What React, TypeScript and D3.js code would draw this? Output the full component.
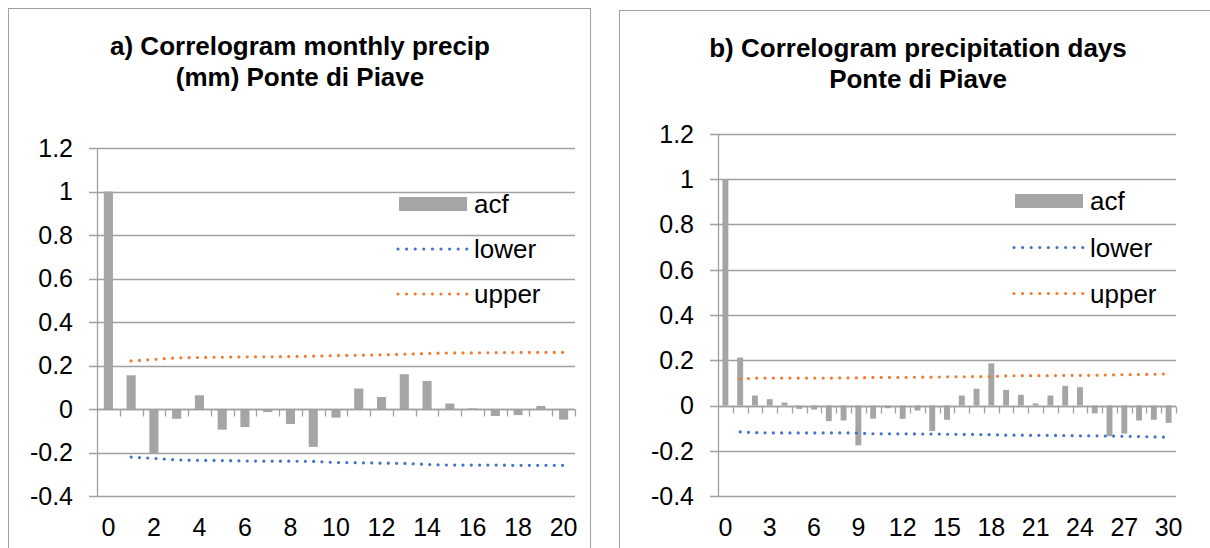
import React, { useEffect, useRef } from 'react';
import * as d3 from 'd3';

// panel a: monthly precip
const lagsA = [0, 1, 2, 3, 4, 5, 6, 7, 8, 9, 10, 11, 12, 13, 14, 15, 16, 17, 18, 19, 20];
const acfA = [1, 0.155, -0.205, -0.045, 0.063, -0.095, -0.083, -0.014, -0.069, -0.174, -0.04,
  0.094, 0.055, 0.16, 0.129, 0.025, 0.003, -0.032, -0.028, 0.014, -0.049];
const boundLagsA = [1, 2, 3, 4, 5, 6, 7, 8, 9, 10, 11, 12, 13, 14, 15, 16, 17, 18, 19, 20];
const upperA = [0.221, 0.228, 0.235, 0.237, 0.238, 0.24, 0.24, 0.241, 0.243, 0.246, 0.247,
  0.249, 0.252, 0.255, 0.258, 0.258, 0.259, 0.26, 0.26, 0.26];
const lowerA = [-0.221, -0.227, -0.234, -0.236, -0.237, -0.239, -0.24, -0.24, -0.241, -0.246,
  -0.247, -0.249, -0.25, -0.255, -0.258, -0.258, -0.258, -0.259, -0.259, -0.259];
const xLabelsA = [0, 2, 4, 6, 8, 10, 12, 14, 16, 18, 20];

// panel b: precipitation days
const lagsB = [0, 1, 2, 3, 4, 5, 6, 7, 8, 9, 10, 11, 12, 13, 14, 15, 16, 17, 18, 19, 20, 21, 22,
  23, 24, 25, 26, 27, 28, 29, 30];
const acfB = [1, 0.212, 0.044, 0.028, 0.013, -0.015, -0.018, -0.069, -0.066, -0.176, -0.058,
  -0.012, -0.059, -0.022, -0.113, -0.063, 0.044, 0.074, 0.186, 0.069, 0.047, 0.009, 0.044,
  0.087, 0.081, -0.035, -0.136, -0.124, -0.066, -0.063, -0.077];
const boundLagsB = [1, 2, 3, 4, 5, 6, 7, 8, 9, 10, 11, 12, 13, 14, 15, 16, 17, 18, 19, 20, 21,
  22, 23, 24, 25, 26, 27, 28, 29, 30];
const upperB = [0.117, 0.121, 0.121, 0.121, 0.121, 0.121, 0.121, 0.122, 0.122, 0.124, 0.124,
  0.124, 0.125, 0.125, 0.127, 0.127, 0.128, 0.128, 0.131, 0.132, 0.132, 0.132, 0.133, 0.133,
  0.134, 0.135, 0.136, 0.137, 0.138, 0.14];
const lowerB = [-0.117, -0.12, -0.121, -0.121, -0.121, -0.121, -0.121, -0.121, -0.122, -0.125,
  -0.125, -0.125, -0.126, -0.126, -0.127, -0.128, -0.128, -0.129, -0.131, -0.131, -0.132,
  -0.132, -0.133, -0.134, -0.134, -0.135, -0.136, -0.137, -0.139, -0.14];
const xLabelsB = [0, 3, 6, 9, 12, 15, 18, 21, 24, 27, 30];

const yTicks = [-0.4, -0.2, 0, 0.2, 0.4, 0.6, 0.8, 1, 1.2];

const FONT = "'Liberation Sans', Arial, sans-serif";
const GRID = '#a0a0a0';
const BAR = '#a5a5a5';
const BLUE = '#4472c4';
const ORANGE = '#ed7d31';

type Panel = {
  box: [number, number, number, number];
  plot: { left: number; right: number; top: number; bottom: number };
  title: string[];
  titleX: number;
  titleY: number[];
  lags: number[];
  acf: number[];
  boundLags: number[];
  upper: number[];
  lower: number[];
  xLabels: number[];
  legend: { x: number; y: number[] };
};

const panels: Panel[] = [
  {
    box: [8.5, 8.5, 582, 560],
    plot: { left: 97, right: 575, top: 148, bottom: 496 },
    title: ['a) Correlogram monthly precip', '(mm) Ponte di Piave'],
    titleX: 300,
    titleY: [55, 86],
    lags: lagsA, acf: acfA, boundLags: boundLagsA, upper: upperA, lower: lowerA,
    xLabels: xLabelsA,
    legend: { x: 399, y: [204, 249, 294] },
  },
  {
    box: [619.5, 10.5, 600, 560],
    plot: { left: 718, right: 1176, top: 134, bottom: 496 },
    title: ['b) Correlogram precipitation days', 'Ponte di Piave'],
    titleX: 918,
    titleY: [57, 88],
    lags: lagsB, acf: acfB, boundLags: boundLagsB, upper: upperB, lower: lowerB,
    xLabels: xLabelsB,
    legend: { x: 1015, y: [201, 247.5, 293.5] },
  },
];

function drawPanel(svg: d3.Selection<SVGSVGElement, unknown, null, undefined>, p: Panel) {
  const g = svg.append('g');

  g.append('rect')
    .attr('x', p.box[0]).attr('y', p.box[1])
    .attr('width', p.box[2]).attr('height', p.box[3])
    .attr('fill', '#fff').attr('stroke', GRID).attr('stroke-width', 1);

  // title
  p.title.forEach((t, i) => {
    g.append('text')
      .attr('x', p.titleX).attr('y', p.titleY[i])
      .attr('text-anchor', 'middle')
      .style('font-family', FONT).style('font-size', '26px').style('font-weight', 'bold')
      .text(t);
  });

  const x = d3.scaleBand<number>()
    .domain(p.lags)
    .range([p.plot.left, p.plot.right])
    .paddingInner(0.6)
    .paddingOuter(0.3);
  const step = x.step();
  const y = d3.scaleLinear().domain([-0.4, 1.2]).range([p.plot.bottom, p.plot.top]);
  const cx = (k: number) => (x(k) as number) + x.bandwidth() / 2;

  // gridlines + y ticks
  yTicks.forEach(v => {
    const yy = Math.round(y(v)) + 0.5;
    g.append('line')
      .attr('x1', p.plot.left - 8).attr('x2', p.plot.right)
      .attr('y1', yy).attr('y2', yy)
      .attr('stroke', GRID).attr('stroke-width', 1.3);
    g.append('text')
      .attr('x', p.plot.left - 24).attr('y', y(v))
      .attr('dy', '0.35em')
      .attr('text-anchor', 'end')
      .style('font-family', FONT).style('font-size', '25px')
      .text(String(+v.toFixed(1)));
  });

  // y axis line
  g.append('line')
    .attr('x1', p.plot.left + 0.5).attr('x2', p.plot.left + 0.5)
    .attr('y1', y(1.2)).attr('y2', y(-0.4))
    .attr('stroke', GRID).attr('stroke-width', 1.3);

  // bars
  g.selectAll('rect.bar')
    .data(p.acf)
    .enter()
    .append('rect')
    .attr('class', 'bar')
    .attr('x', (d, i) => x(p.lags[i]) as number)
    .attr('width', x.bandwidth())
    .attr('y', d => y(Math.max(0, d)))
    .attr('height', d => Math.abs(y(d) - y(0)))
    .attr('fill', BAR);

  // x axis at zero with tick marks between categories
  const y0 = Math.round(y(0)) + 0.5;
  g.append('line')
    .attr('x1', p.plot.left).attr('x2', p.plot.right)
    .attr('y1', y0).attr('y2', y0)
    .attr('stroke', GRID).attr('stroke-width', 1.3);
  p.lags.forEach((k, i) => {
    const tx = Math.round(p.plot.left + step * (i + 1)) + 0.5;
    g.append('line')
      .attr('x1', tx).attr('x2', tx)
      .attr('y1', y0).attr('y2', y0 + 7)
      .attr('stroke', GRID).attr('stroke-width', 1.3);
  });

  // x labels at bottom
  p.xLabels.forEach(k => {
    g.append('text')
      .attr('x', cx(k)).attr('y', p.plot.bottom + 31)
      .attr('dy', '0.35em')
      .attr('text-anchor', 'middle')
      .style('font-family', FONT).style('font-size', '25px')
      .text(k);
  });

  // confidence bounds
  const line = d3.line<number>()
    .x((d, i) => cx(p.boundLags[i]))
    .y(d => y(d));
  [[p.lower, BLUE], [p.upper, ORANGE]].forEach(([vals, col]) => {
    g.append('path')
      .datum(vals as number[])
      .attr('d', line)
      .attr('fill', 'none')
      .attr('stroke', col as string)
      .attr('stroke-width', 3.2)
      .attr('stroke-linecap', 'round')
      .attr('stroke-dasharray', '0 8.3');
  });

  // legend
  const lx = p.legend.x;
  g.append('rect')
    .attr('x', lx).attr('y', p.legend.y[0] - 7)
    .attr('width', 68).attr('height', 14)
    .attr('fill', BAR);
  [[p.legend.y[1], BLUE], [p.legend.y[2], ORANGE]].forEach(([ly, col]) => {
    g.append('line')
      .attr('x1', lx - 1).attr('x2', lx + 68)
      .attr('y1', ly as number).attr('y2', ly as number)
      .attr('stroke', col as string)
      .attr('stroke-width', 3.2)
      .attr('stroke-linecap', 'round')
      .attr('stroke-dasharray', '0 8.6');
  });
  ['acf', 'lower', 'upper'].forEach((name, i) => {
    g.append('text')
      .attr('x', lx + 75).attr('y', p.legend.y[i])
      .attr('dy', '0.35em')
      .style('font-family', FONT).style('font-size', '26px')
      .text(name);
  });
}

const App = () => {
  const ref = useRef<SVGSVGElement>(null);

  useEffect(() => {
    const svg = d3.select(ref.current as SVGSVGElement);
    svg.selectAll('*').remove();
    svg.append('rect').attr('width', 1210).attr('height', 548).attr('fill', '#fff');
    panels.forEach(p => drawPanel(svg, p));
  }, []);

  return (
    <svg
      ref={ref}
      width={1210}
      height={548}
      style={{ position: 'absolute', left: 0, top: 0, display: 'block' }}
    />
  );
};

export default App;
